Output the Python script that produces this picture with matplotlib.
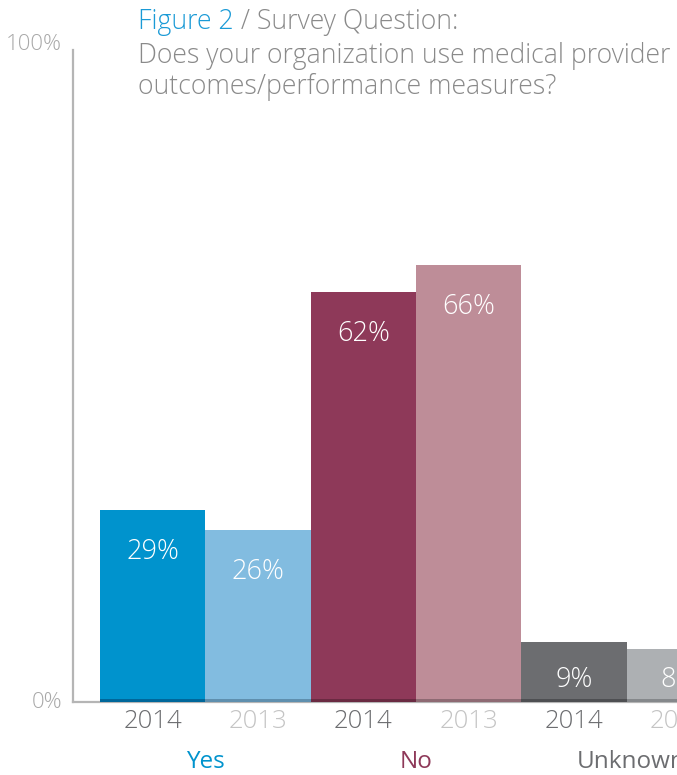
import matplotlib
matplotlib.use("Agg")
import matplotlib.pyplot as plt

groups = ["Yes", "No", "Unknown"]
years = ["2014", "2013"]
values = [29, 26, 62, 66, 9, 8]
bar_labels = ["29%", "26%", "62%", "66%", "9%", "8%"]
bar_colors = ["#0093CD", "#82BCE0", "#8E3959", "#BE8D98", "#6C6D70", "#ADB0B3"]
base_colors = ["#00679A", "#5F8FAE", "#6A2A42", "#8E6A73", "#4E4F52", "#85888B"]
group_colors = ["#0093CD", "#8E3959", "#6C6D70"]
year_colors = ["#6C6D70", "#C4C4C4"]

fam = ["Open Sans", "DejaVu Sans"]
plt.rcParams["font.family"] = fam
FW = "light"

W, H = 677, 775
fig = plt.figure(figsize=(W / 100, H / 100), dpi=100)
ax_left, ax_right = 73, 677
ax_bottom, ax_top = 702, 40
ax = fig.add_axes([ax_left / W, 1 - ax_bottom / H, (ax_right - ax_left) / W, (ax_bottom - ax_top) / H])

x = list(range(len(values)))
ax.bar(x, values, width=1.0, color=bar_colors, edgecolor="none", zorder=2)
ax.bar(x, [0.45] * len(values), width=1.0, color=base_colors, edgecolor="none", zorder=3)

bw_px = 105.3
xl = -0.5 - (100 - ax_left) / bw_px
ax.set_xlim(xl, xl + (ax_right - ax_left) / bw_px)
ax.set_ylim(0, 100)

for s in ["top", "right"]:
    ax.spines[s].set_visible(False)
ax.spines["left"].set_color("#B5B5B5")
ax.spines["left"].set_linewidth(1.6)
ax.spines["left"].set_bounds(0, 98.5)
ax.spines["bottom"].set_color("#B5B5B5")
ax.spines["bottom"].set_linewidth(1.6)
ax.set_xticks([])
ax.set_yticks([])

for xi, v, lab in zip(x, values, bar_labels):
    ypos = max(v - 6.4, 3.3)
    ax.text(xi, ypos, lab, color="white", ha="center", va="center",
            fontsize=19.5, fontweight=FW, clip_on=False, zorder=4)

for xi in x:
    ax.text(xi, -3.0, years[xi % 2], color=year_colors[xi % 2], ha="center", va="center",
            fontsize=18.5, fontweight=FW, clip_on=False)

for gi, g in enumerate(groups):
    ax.text(2 * gi + 0.5 + (0.04 if gi == 2 else 0), -9.0, g, color=group_colors[gi],
            ha="center", va="center", fontsize=17.5, fontweight="normal", clip_on=False)

fig.text(62 / W, 1 - 45 / H, "100%", color="#A8A8A8", ha="right", va="center",
         fontsize=16, fontweight=FW)
fig.text(62 / W, 1 - 702 / H, "0%", color="#A8A8A8", ha="right", va="center",
         fontsize=16, fontweight=FW)

ty = [22, 56, 87]
TS = 19.2
t1 = fig.text(138 / W, 1 - ty[0] / H, "Figure 2", color="#1A9AD6", ha="left", va="center",
              fontsize=TS, fontweight=FW)
fig.canvas.draw()
bb = t1.get_window_extent()
fig.text(bb.x1 / W, 1 - ty[0] / H, " / Survey Question:", color="#8A8A8A", ha="left", va="center",
         fontsize=TS, fontweight=FW)
fig.text(138 / W, 1 - ty[1] / H, "Does your organization use medical provider", color="#8A8A8A",
         ha="left", va="center", fontsize=TS, fontweight=FW)
fig.text(138 / W, 1 - ty[2] / H, "outcomes/performance measures?", color="#8A8A8A",
         ha="left", va="center", fontsize=TS, fontweight=FW)

fig.savefig("out.png", dpi=100)
